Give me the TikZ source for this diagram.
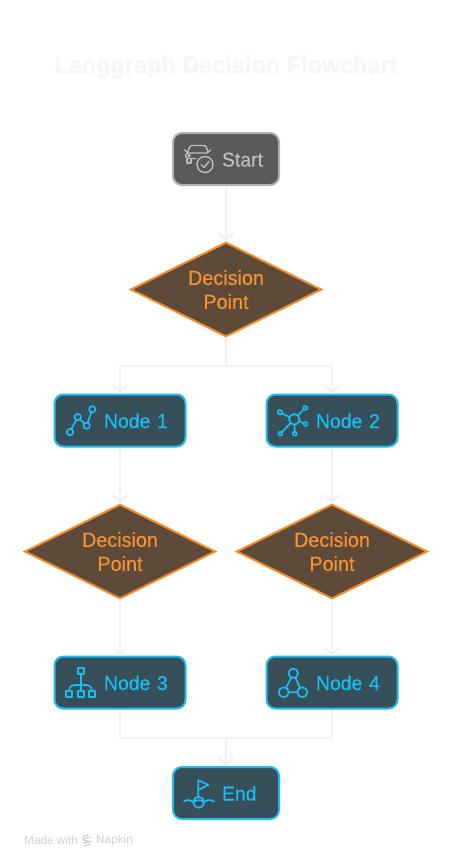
\documentclass[tikz,border=0pt]{standalone}
\usepackage{fontspec}
\setmainfont[FakeStretch=0.97,FakeBold=0.35,BoldFeatures={FakeBold=1.6,FakeStretch=0.97}]{Liberation Sans}
\newfontfamily\footfont{Liberation Sans}
\usetikzlibrary{shapes.geometric,arrows.meta}
\definecolor{startfill}{HTML}{595959}
\definecolor{startline}{HTML}{B0B0B0}
\definecolor{starttext}{HTML}{BDBDBD}
\definecolor{nodefill}{HTML}{374F59}
\definecolor{nodeline}{HTML}{1ABCF2}
\definecolor{decfill}{HTML}{5E4A38}
\definecolor{decline}{HTML}{F58C2B}
\definecolor{dectext}{HTML}{F59335}
\definecolor{conn}{HTML}{F2F2F2}
\definecolor{titlecol}{HTML}{F6F6F6}
\definecolor{footcol}{HTML}{D2D2D2}
\tikzset{
  basebox/.style={rectangle,rounded corners=9pt,line width=2pt,minimum height=52pt,inner sep=0pt,align=left,
    text height=16pt,text depth=1pt,font=\fontsize{20pt}{24pt}\selectfont},
  wide/.style={basebox,draw=nodeline,fill=nodefill,text=nodeline,minimum width=131pt,text width=131pt},
  narrow/.style={basebox,draw=nodeline,fill=nodefill,text=nodeline,minimum width=106pt,text width=106pt},
  startbox/.style={narrow,draw=startline,fill=startfill,text=starttext},
  decision/.style={diamond,draw=decline,fill=decfill,text=dectext,line width=2pt,minimum width=191pt,minimum height=94.5pt,
    inner sep=0pt,aspect=2,align=center,font=\fontsize{20.4pt}{24pt}\selectfont},
  link/.style={draw=conn,line width=2pt},
  arrowlink/.style={link,-{Straight Barb[length=7pt,width=15pt,line width=2pt]}},
  iconn/.style={draw=nodeline,line width=1.7pt,line join=round,line cap=round},
  icons/.style={draw=starttext,line width=1.4pt,line join=round,line cap=round},
  titletext/.style={text=titlecol,font=\fontsize{24.2pt}{28pt}\selectfont\bfseries},
  foottext/.style={text=footcol,font=\footfont\fontsize{11.8pt}{13pt}\selectfont,inner sep=0pt}
}
\begin{document}
\begin{tikzpicture}[x=1pt,y=-1pt]
\useasboundingbox (0,0) rectangle (453,868);
\fill[white] (0,0) rectangle (453,868);
\node[titletext] (title) at (226,67) {Langgraph Decision Flowchart};
\node[startbox] (start) at (226,159) {\hspace*{49pt}Start};
\node[decision] (d1) at (226,289.5) {\rule{0pt}{15pt}Decision\\Point};
\node[wide] (n1) at (120,420.5) {\hspace*{49.5pt}Node 1};
\node[wide] (n2) at (332,420.5) {\hspace*{49.5pt}Node 2};
\node[decision] (d2) at (120,551.5) {\rule{0pt}{15pt}Decision\\Point};
\node[decision] (d3) at (332,551.5) {\rule{0pt}{15pt}Decision\\Point};
\node[wide] (n3) at (120,682.5) {\hspace*{49.5pt}Node 3};
\node[wide] (n4) at (332,682.5) {\hspace*{49.5pt}Node 4};
\node[narrow] (e) at (226,793) {\hspace*{49pt}End};
\coordinate (split) at (226,365.5);
\coordinate (merge) at (226,737.5);
\draw[arrowlink] (start) -- (d1);
\draw[link] (d1) -- (split);
\draw[arrowlink] (split) -| (n1);
\draw[arrowlink] (split) -| (n2);
\draw[arrowlink] (n1) -- (d2);
\draw[arrowlink] (n2) -- (d3);
\draw[arrowlink] (d2) -- (n3);
\draw[arrowlink] (d3) -- (n4);
\draw[link] (n3) |- (merge);
\draw[link] (n4) |- (merge);
\draw[arrowlink] (merge) -- (e);
% start icon
\draw[icons] (187,153.5) -- (189.5,147.5) .. controls (190,146) and (191,145.5) .. (193,145.5) -- (203,145.5) .. controls (205,145.5) and (206,146) .. (206.5,147.5) -- (208,152);
\draw[icons] (184.5,150) -- (189,153) -- (207,153) -- (210.5,150);
\draw[icons] (196,158.5) -- (189,158.5) .. controls (186,158.5) and (185.5,157) .. (185.5,155) -- (187,153);
\draw[icons] (187,159) -- (187,163) -- (191,163) -- (191,159);
\draw[icons] (189,155.5) circle (1.2pt);
\draw[icons] (205,164.5) circle (8pt);
\draw[icons] (201,164.5) -- (204,167.5) -- (209,161.5);
% node 1 icon
\draw[iconn] (70,432) circle (3.2pt) (77.7,417) circle (3.2pt) (86.7,425.7) circle (3.2pt) (92.3,409.3) circle (3.2pt);
\draw[iconn] (71.3,429) -- (76.4,420) (80,419.3) -- (84.4,423.4) (87.8,422.7) -- (91.2,412.3);
% node 2 icon
\draw[iconn] (294.3,419.3) circle (5.3pt) (280,412.3) circle (2.3pt) (305.3,408) circle (2pt) (305.7,424) circle (2pt) (294.7,433.7) circle (2pt) (280.3,433.7) circle (2pt);
\draw[iconn] (282,413.3) -- (289.6,417.2) (303.8,409.4) -- (298,415.4) (303.7,423.3) -- (299.2,421) (294.5,424.6) -- (294.7,431.7) (281.7,432.3) -- (290.6,423.2);
% node 3 icon
\draw[iconn] (78,668.3) rectangle (84,674.3);
\draw[iconn] (66.3,691) rectangle (72.3,697) (78,691) rectangle (84,697) (88.7,691) rectangle (94.7,697);
\draw[iconn] (81,674.3) -- (81,691);
\draw[iconn] (69.3,691) .. controls (69.3,687) and (71,685) .. (74,685) -- (87,685) .. controls (90,685) and (91.7,687) .. (91.7,691);
% node 4 icon
\draw[iconn] (293.3,673.3) circle (4.7pt) (283.7,692.3) circle (5pt) (302.3,692.3) circle (5pt);
\draw[iconn] (291.2,677.5) -- (286,687.9) (295.4,677.5) -- (300,687.9) (288.7,692.3) -- (297.3,692.3);
% end icon
\draw[iconn] (198.3,796.5) -- (198.3,780) -- (208.3,785) -- (198.3,790);
\draw[iconn] (198.7,802.3) circle (5.5pt);
\draw[iconn] (184,801.5) .. controls (187,799.5) and (189,799.5) .. (193.5,802) (204,802) .. controls (208,799.5) and (210,799.5) .. (214,801.5);
\draw[iconn] (193.2,802.3) .. controls (196,799.5) and (201,799.5) .. (204.2,802.3);
% footer
\node[foottext,anchor=west] (made) at (24,840.5) {Made with};
\node[foottext,anchor=west] (napkin) at (96,840.5) {Napkin};
\draw[footcol,line width=1.3pt] (82.5,836.5) -- (88,835) (82.5,839) -- (91,837) (83,840) -- (92,842) (83,843) -- (90,841.5) (84,846) -- (90,844);
\end{tikzpicture}
\end{document}
